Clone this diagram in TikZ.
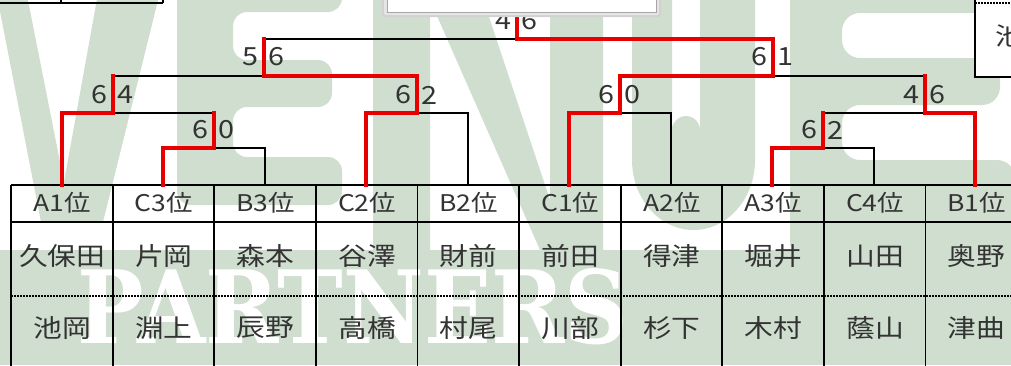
\documentclass[tikz,border=0pt]{standalone}
\usepackage{fontspec}
\newfontfamily\jp[FakeStretch=1.15]{Noto Sans CJK JP}
\newfontfamily\wmserif{DejaVu Serif}
\usetikzlibrary{calc}
\definecolor{wm}{RGB}{207,222,206}
\definecolor{txt}{RGB}{51,51,51}
\definecolor{win}{RGB}{232,0,0}
\tikzset{
  blkline/.style={draw=black,line width=1.6pt},
  winline/.style={draw=win,line width=4pt,line join=miter,line cap=rect},
  gridline/.style={draw=black,line width=1.8pt},
  scorestyle/.style={font=\jp\fontsize{25}{25}\selectfont,text=txt,inner sep=0pt},
  headstyle/.style={font=\jp\fontsize{23}{23}\selectfont,text=txt,inner sep=0pt},
  namestyle/.style={font=\jp\fontsize{25}{25}\selectfont,text=txt,inner sep=0pt},
}
\begin{document}
\begin{tikzpicture}[x=1pt,y=-1pt]
\useasboundingbox (0,0) rectangle (1011,365);
\clip (0,0) rectangle (1011,365);
% ---------- watermark ----------
% V
\fill[wm] (-10,-40) -- (20,-40) -- (64,182) -- (104,-40) -- (168,-40) -- (103,222) -- (41,222) -- cycle;
% E1
\fill[wm,rounded corners=14pt] (177,-40) -- (342,-40) -- (342,12) -- (233,12) -- (233,60) -- (332,60) -- (332,107) -- (233,107) -- (233,157) -- (342,157) -- (342,205) -- (177,205) -- cycle;
% N
\fill[wm] (373,-40) -- (470,-40) -- (550,200) -- (550,-40) -- (603,-40) -- (603,250) -- (540,250) -- (430,0) -- (430,250) -- (373,250) -- cycle;
% U
\fill[wm] (632,-40) -- (672,-40) -- (672,130) arc[start angle=180,end angle=360,x radius=14pt,y radius=-14pt] -- (700,-40) -- (755,-40) -- (755,160) arc[start angle=0,end angle=-180,x radius=61.5pt,y radius=70pt] -- cycle;
% E2
\fill[wm,rounded corners=18pt] (790,-40) -- (1010,-40) -- (1010,13) -- (842,13) -- (842,58) -- (1000,58) -- (1000,105) -- (842,105) -- (842,160) -- (1015,160) -- (1015,260) -- (790,260) -- cycle;
% band
\fill[wm] (0,250) rectangle (1011,365);
\node[text=white,inner sep=0pt,anchor=south west] (partners) at (77,345)
  {\resizebox{551pt}{75pt}{\wmserif\bfseries PARTNERS}};
% ---------- top fragments ----------
\draw[line width=1.5pt] (0,3) -- (163,3);
\draw[line width=1.5pt] (61,-2) -- (61,3);
\draw[line width=1.5pt] (163,-2) -- (163,3);
% ---------- table ----------
\foreach \i in {0,...,10} { \coordinate (c\i) at ({11+101.6*\i},185); }
\draw[gridline] (11,185) -- (1015,185);
\draw[black,line width=2.6pt] (11,222) -- (1015,222);
\draw[black,line width=1.5pt,dash pattern=on 2pt off 1pt] (11,296) -- (1015,296);
\foreach \i in {0,...,9} { \draw[gridline] (c\i) -- ++(0,185); }
% headers and names
\foreach \h [count=\k from 0] in {A1位,C3位,B3位,C2位,B2位,C1位,A2位,A3位,C4位,B1位} {
  \node[headstyle] (h\k) at ({62.3+101.6*\k},203) {\h};
}
\foreach \n [count=\k from 0] in {久保田,片岡,森本,谷澤,財前,前田,得津,堀井,山田,奥野} {
  \node[namestyle] (n\k) at ({62.3+101.6*\k},256) {\n};
}
\foreach \n [count=\k from 0] in {池岡,淵上,辰野,高橋,村尾,川部,杉下,木村,蔭山,津曲} {
  \node[namestyle] (p\k) at ({62.3+101.6*\k},328) {\n};
}
% ---------- bracket ----------
\coordinate (a1) at (62,185);  \coordinate (c3) at (163,185); \coordinate (b3) at (265,185);
\coordinate (c2) at (366,185); \coordinate (b2) at (468,185); \coordinate (c1) at (569,185);
\coordinate (a2) at (671,185); \coordinate (a3) at (772,185); \coordinate (c4) at (874,185);
\coordinate (b1) at (975,185);
\coordinate (m1) at (214,148);
\coordinate (m2) at (113,113);
\coordinate (m3) at (417,113);
\coordinate (m4) at (264,76);
\coordinate (m5) at (620,113);
\coordinate (m6) at (823,148);
\coordinate (m7) at (925,113);
\coordinate (m8) at (773,76);
\coordinate (m9) at (517,39);
\coordinate (top) at (517,10);
\draw[blkline] (c3) |- (m1) -| (b3);
\draw[blkline] (a1) |- (m2) -| (m1);
\draw[blkline] (c2) |- (m3) -| (b2);
\draw[blkline] (m2) |- (m4) -| (m3);
\draw[blkline] (c1) |- (m5) -| (a2);
\draw[blkline] (a3) |- (m6) -| (c4);
\draw[blkline] (m6) |- (m7) -| (b1);
\draw[blkline] (m5) |- (m8) -| (m7);
\draw[blkline] (m4) |- (m9) -| (m8);
% winners
\draw[winline] (c3) |- (m1) -- (m1 |- m2);
\draw[winline] (a1) |- (m2) -- (m2 |- m4);
\draw[winline] (c2) |- (m3) |- (m4) -- (m4 |- m9);
\draw[winline] (c1) |- (m5) |- (m8) |- (m9) -- (top);
\draw[winline] (a3) |- (m6) -- (m6 |- m7);
\draw[winline] (b1) |- (m7) -- (m7 |- m8);
% scores
\foreach \m/\l/\r/\ys in {m1/6/0/130, m2/6/4/95, m3/6/2/95, m4/5/6/57, m5/6/0/95, m6/6/2/130, m7/4/6/95, m8/6/1/57, m9/4/6/21} {
  \node[scorestyle,anchor=east] (\m L) at ($(\m |- 0,\ys)+(-5,0)$) {\l};
  \node[scorestyle,anchor=west] (\m R) at ($(\m |- 0,\ys)+(4,0)$) {\r};
}
% ---------- top boxes ----------
\fill[black!18,rounded corners=3pt] (382,-6) rectangle (661,17);
\fill[black!10,rounded corners=2pt] (384,-6) rectangle (659,15);
\draw[fill=white,draw=black!35,line width=1pt] (387,-6) rectangle (656,12);
\fill[white] (976,-4) rectangle (1016,76);
\draw[line width=2pt] (975,-4) -- (975,77) -- (1016,77);
\draw[line width=1.2pt,dash pattern=on 2pt off 1pt] (975,3) -- (1016,3);
\node[namestyle,anchor=west] (ike) at (995,36) {池};
\end{tikzpicture}
\end{document}
